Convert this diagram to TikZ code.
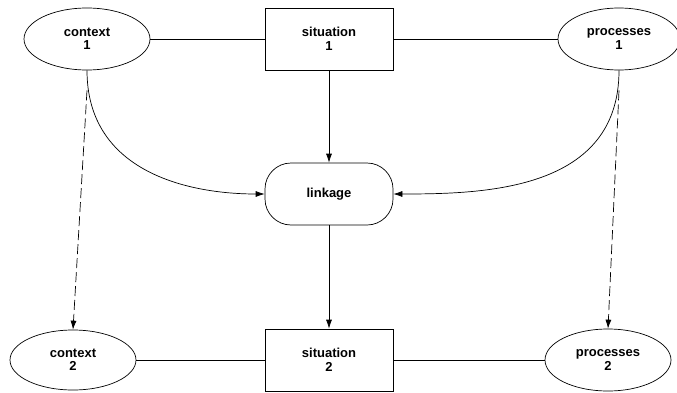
\documentclass[tikz,border=0pt]{standalone}
\usepackage{fontspec}
\setmainfont{Liberation Sans}
\usepackage{tikz}
\usetikzlibrary{shapes.geometric,arrows.meta}

\begin{document}
\begin{tikzpicture}[x=1pt,y=1pt,
    every node/.style={font=\bfseries\fontsize{13}{13.5}\selectfont,align=center,line width=0.7pt,inner sep=0pt},
    ctxnode/.style={draw,ellipse,minimum width=126pt,minimum height=62pt},
    sitnode/.style={draw,rectangle,minimum width=128pt,minimum height=62pt},
    linknode/.style={draw,rectangle,rounded corners=26pt,minimum width=128pt,minimum height=62pt},
    link/.style={line width=0.7pt},
    flow/.style={line width=0.7pt,-{Latex[length=9pt,width=6pt]}},
    carry/.style={flow,dash pattern=on 10pt off 4pt}]
                \useasboundingbox (0,0) rectangle (677,392);

                % Time 1
                \node[ctxnode] (ctx1) at (87,353) {context\\1};
                \node[sitnode] (sit1) at (329,353) {situation\\1};
                \node[ctxnode,minimum width=122pt] (proc1) at (619,353) {processes\\1};

                % Linkage
                \node[linknode] (lnk) at (329,198) {linkage};

                % Time 2
                \node[ctxnode,minimum height=60pt] (ctx2) at (73,32) {context\\2};
                \node[sitnode] (sit2) at (329,32) {situation\\2};
                \node[ctxnode] (proc2) at (608,32) {processes\\2};

                % Horizontal links
                \draw[link] (ctx1) -- (sit1);
                \draw[link] (sit1) -- (proc1);
                \draw[link] (ctx2) -- (sit2);
                \draw[link] (sit2) -- (proc2);

                % Flows through linkage
                \draw[flow] (sit1) -- (lnk);
                \draw[flow] (lnk) -- (sit2);
                \draw[flow] (ctx1.south) to[out=-90,in=180,out looseness=1.2,in looseness=0.9] (lnk.west);
                \draw[flow] (proc1.south) to[out=-90,in=0,out looseness=1.2,in looseness=0.9] (lnk.east);

                % Carry over
                \coordinate (ctxfork) at ([yshift=-20pt]ctx1.south);
                \coordinate (procfork) at ([yshift=-20pt]proc1.south);
                \draw[carry] (ctxfork) -- (ctx2.north);
                \draw[carry] (procfork) -- (proc2.north);
            \end{tikzpicture}
\end{document}
